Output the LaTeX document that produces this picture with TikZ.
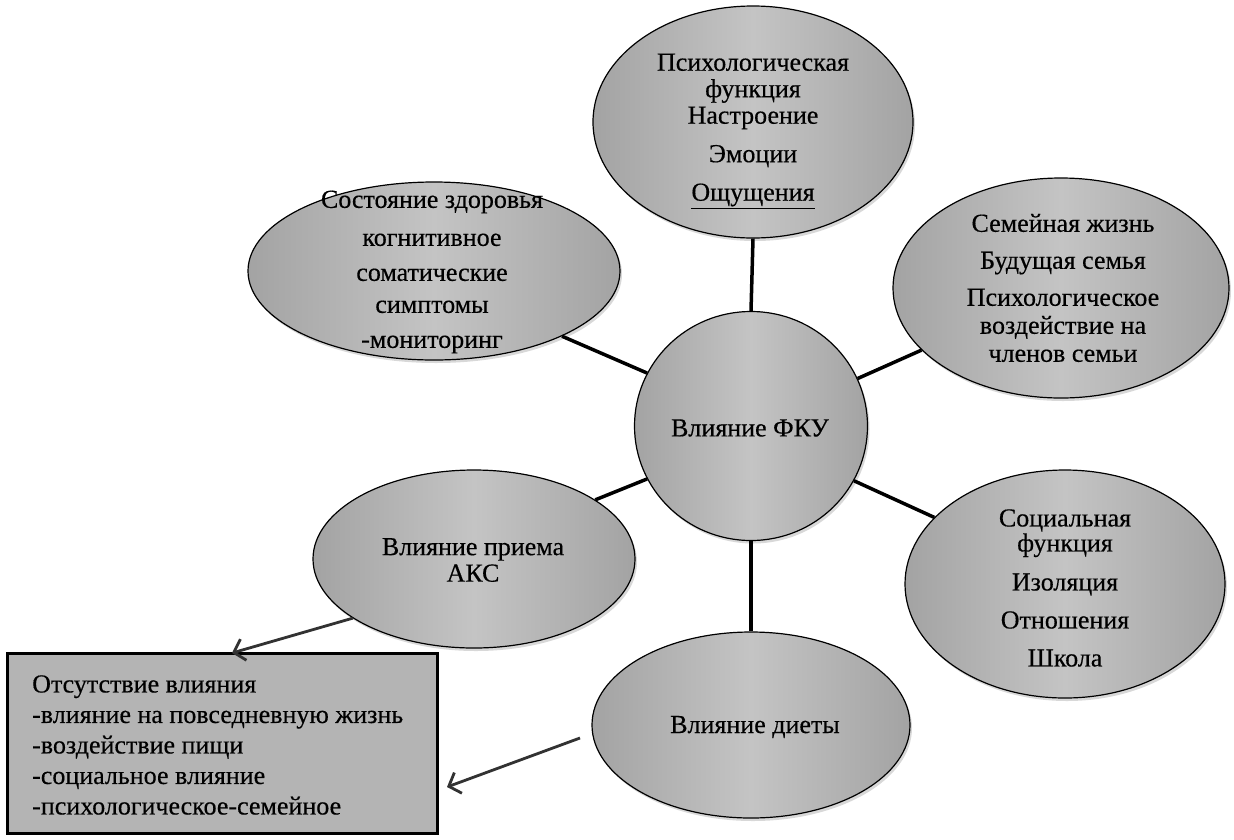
\documentclass[tikz,border=0pt]{standalone}
\usepackage{fontspec}
\setmainfont{Liberation Serif}
\newfontfamily\heavyserif{Liberation Serif}[FakeBold=0.4]
\usetikzlibrary{shapes.geometric,arrows.meta,shadows}
\definecolor{ellD}{RGB}{163,163,163}
\definecolor{ellL}{RGB}{196,196,196}
\definecolor{boxF}{RGB}{180,180,180}
\definecolor{arr}{RGB}{50,50,50}
\begin{document}
\begin{tikzpicture}[x=1pt,y=-1pt,
  bub/.style={ellipse, draw=black, line width=1.2pt, inner sep=0pt,
    left color=ellD, right color=ellD, middle color=ellL,
    drop shadow={shadow xshift=2pt,shadow yshift=-3pt,opacity=0.3}},
  lbl/.style={align=center, font=\heavyserif\fontsize{26pt}{26.5pt}\selectfont, inner sep=0pt},
  link/.style={line width=3.5pt, black},
  pointer/.style={line width=2.8pt, arr, -{Straight Barb[length=10pt,width=22pt]}},
]
\useasboundingbox (0,0) rectangle (1234,839);
\fill[white] (0,0) rectangle (1234,839);

% bubbles
\node[bub, minimum width=233, minimum height=229] (fku) at (751,426) {};
\node[bub, minimum width=320, minimum height=232] (psy) at (753,122) {};
\node[bub, minimum width=372, minimum height=178] (health) at (434,271) {};
\node[bub, minimum width=336, minimum height=220] (family) at (1061,288) {};
\node[bub, minimum width=320, minimum height=228] (social) at (1065,584) {};
\node[bub, minimum width=322, minimum height=178] (akc) at (474,559) {};
\node[bub, minimum width=318, minimum height=186] (diet) at (751,725) {};

% box
\node[draw=black, line width=3pt, fill=boxF, minimum width=430, minimum height=180, inner sep=0pt] (box) at (222,743) {};

% labels
\node[lbl] (fkuT) at (750,428) {Влияние ФКУ};
\node[lbl] (psyT) at (753,131) {Психологическая\\функция\\Настроение\\[12pt]Эмоции\\[12pt]\underline{Ощущения}};
\node[lbl] (healthT) at (432,272) {Состояние здоровья\\[11.5pt]когнитивное\\[8.5pt]соматические\\[5.5pt]симптомы\\[8.5pt]-мониторинг};
\node[lbl] (familyT) at (1063,288) {Семейная жизнь\\[10.5pt]Будущая семья\\[10.5pt]Психологическое\\[1.5pt]воздействие на\\[1.5pt]членов семьи};
\node[lbl] (socialT) at (1065,588) {Социальная\\[-1.5pt]функция\\[12.5pt]Изоляция\\[11.5pt]Отношения\\[11.5pt]Школа};
\node[lbl] (akcT) at (473,560) {Влияние приема\\АКС};
\node[lbl] (dietT) at (755,727) {Влияние диеты};
\node[anchor=west, align=left, font=\heavyserif\fontsize{26pt}{30.5pt}\selectfont, inner sep=0pt] (boxT) at (32,745)
  {Отсутствие влияния\\-влияние на повседневную жизнь\\-воздействие пищи\\-социальное влияние\\-психологическое-семейное};

% connectors
\draw[link] (fku.90) -- (psy.270);
\draw[link] (fku.270) -- (diet.90);
\draw[link] (fku.153) -- (health.-27);
\draw[link] (fku.24) -- (family.204);
\draw[link] (fku.-28) -- (social.153);
\draw[link] (fku.207) -- (akc.26);

% arrows
\coordinate (t1) at (232,653);
\coordinate (s2) at (580,738);
\coordinate (t2) at (447,787);
\draw[pointer] (akc.206) -- (t1);
\draw[pointer] (s2) -- (t2);
\end{tikzpicture}
\end{document}
